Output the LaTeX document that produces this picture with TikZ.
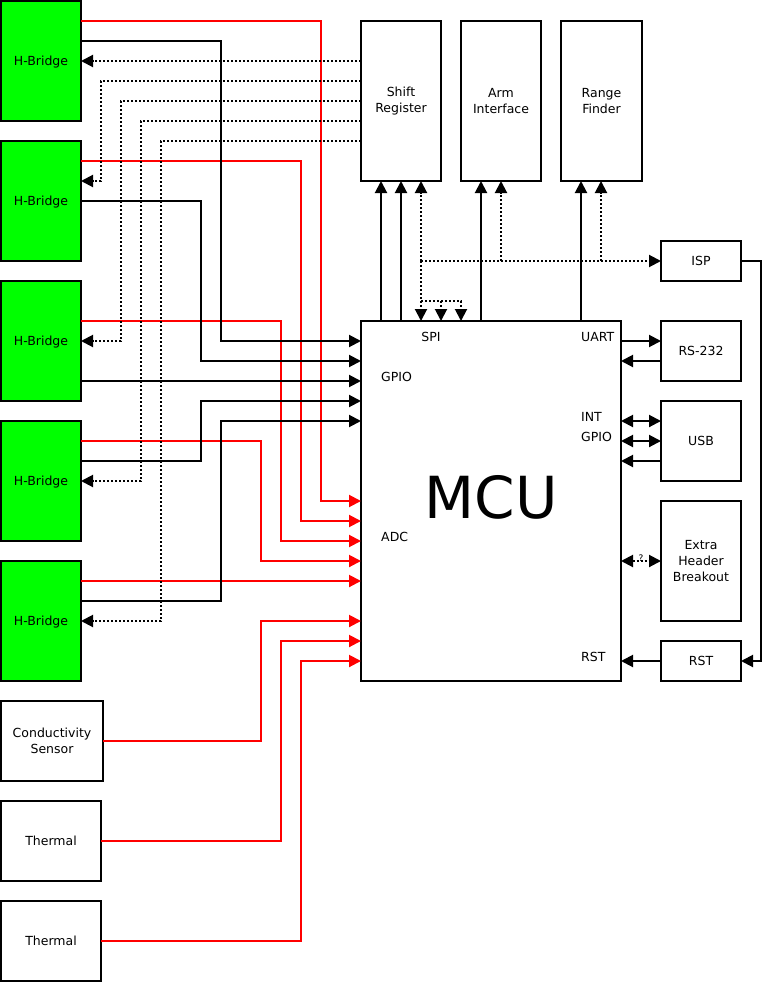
\documentclass[tikz,border=0pt]{standalone}
\usepackage{fontspec}
\setmainfont{DejaVu Sans}
\usetikzlibrary{arrows.meta}
\definecolor{hbgreen}{RGB}{0,255,0}
\definecolor{wirered}{RGB}{255,0,0}
\tikzset{
  blk/.style={draw, line width=2pt, inner sep=0pt, outer sep=0pt, align=center,
    font=\fontsize{12.5}{16}\selectfont, fill=white},
  hbbox/.style={blk, fill=hbgreen, minimum width=80pt, minimum height=120pt,
    text height=11pt, text depth=2.4pt},
  lbl/.style={inner sep=0pt, anchor=west, font=\fontsize{12.5}{15}\selectfont},
  tip/.tip={Triangle[length=12pt,width=12pt]},
  wire/.style={line width=2pt, -tip},
  redwire/.style={wire, draw=wirered, -{Triangle[length=12pt,width=12pt,color=wirered]}},
  dotwire/.style={wire, dash pattern=on 2pt off 2pt},
}
\begin{document}
\begin{tikzpicture}[x=1pt,y=-1pt]
\useasboundingbox (0,0) rectangle (762,982);

% H-Bridges
\node[hbbox] (hb1) at (41,61) {H-Bridge};
\node[hbbox] (hb2) at (41,201) {H-Bridge};
\node[hbbox] (hb3) at (41,341) {H-Bridge};
\node[hbbox] (hb4) at (41,481) {H-Bridge};
\node[hbbox] (hb5) at (41,621) {H-Bridge};

% sensors
\node[blk, minimum width=102pt, minimum height=80pt] (cond) at (52,741) {Conductivity\\Sensor};
\node[blk, minimum width=100pt, minimum height=80pt] (th1) at (51,841) {Thermal};
\node[blk, minimum width=100pt, minimum height=80pt] (th2) at (51,941) {Thermal};

% top peripherals
\node[blk, minimum width=80pt, minimum height=160pt] (sr) at (401,101) {Shift\\Register};
\node[blk, minimum width=80pt, minimum height=160pt] (arm) at (501,101) {Arm\\Interface};
\node[blk, minimum width=81pt, minimum height=160pt] (rf) at (601.5,101) {Range\\Finder};

% right peripherals
\node[blk, minimum width=80pt, minimum height=40pt] (isp) at (701,261) {ISP};
\node[blk, minimum width=80pt, minimum height=60pt] (rs) at (701,351) {RS-232};
\node[blk, minimum width=80pt, minimum height=80pt] (usb) at (701,441) {USB};
\node[blk, minimum width=80pt, minimum height=120pt] (ext) at (701,561) {Extra\\Header\\Breakout};
\node[blk, minimum width=80pt, minimum height=40pt] (rst) at (701,661) {RST};

% MCU
\node[blk, minimum width=260pt, minimum height=360pt] (mcu) at (491,501) {};
\node[inner sep=0pt, font=\fontsize{58}{60}\selectfont] (mcut) at (491,497) {MCU};
\node[lbl, anchor=center] (lspi) at (431,336.8) {SPI};
\node[lbl] (luart) at (581,336.8) {UART};
\node[lbl] (lgpio) at (381,376.8) {GPIO};
\node[lbl] (lint) at (581,416.8) {INT};
\node[lbl] (lgpio2) at (581,436.8) {GPIO};
\node[lbl] (ladc) at (381,536.8) {ADC};
\node[lbl] (lrst) at (581,656.8) {RST};

% red analog wires
\draw[redwire] (hb1.east |- 0,21) -| (321,501) -- (mcu.west |- 0,501);
\draw[redwire] (hb2.east |- 0,161) -| (301,521) -- (mcu.west |- 0,521);
\draw[redwire] (hb3.east |- 0,321) -| (281,541) -- (mcu.west |- 0,541);
\draw[redwire] (hb4.east |- 0,441) -| (261,561) -- (mcu.west |- 0,561);
\draw[redwire] (hb5.east |- 0,581) -- (mcu.west |- 0,581);
\draw[redwire] (cond.east) -| (261,621) -- (mcu.west |- 0,621);
\draw[redwire] (th1.east) -| (281,641) -- (mcu.west |- 0,641);
\draw[redwire] (th2.east) -| (301,661) -- (mcu.west |- 0,661);

% black GPIO wires
\draw[wire] (hb1.east |- 0,41) -| (221,341) -- (mcu.west |- 0,341);
\draw[wire] (hb2.east |- 0,201) -| (201,361) -- (mcu.west |- 0,361);
\draw[wire] (hb3.east |- 0,381) -- (mcu.west |- 0,381);
\draw[wire] (hb4.east |- 0,461) -| (201,401) -- (mcu.west |- 0,401);
\draw[wire] (hb5.east |- 0,601) -| (221,421) -- (mcu.west |- 0,421);

% dotted shift register outputs
\draw[dotwire] (sr.west |- 0,61) -- (hb1.east |- 0,61);
\draw[dotwire] (sr.west |- 0,81) -| (101,181) -- (hb2.east |- 0,181);
\draw[dotwire] (sr.west |- 0,101) -| (121,341) -- (hb3.east |- 0,341);
\draw[dotwire] (sr.west |- 0,121) -| (141,481) -- (hb4.east |- 0,481);
\draw[dotwire] (sr.west |- 0,141) -| (161,621) -- (hb5.east |- 0,621);

% SPI bus
\draw[wire] (mcu.north -| 381,0) -- (sr.south -| 381,0);
\draw[wire] (mcu.north -| 401,0) -- (sr.south -| 401,0);
\coordinate (spij) at (421,261);
\coordinate (spik) at (421,301);
\draw[dotwire] (spij) -- (sr.south -| 421,0);
\draw[dotwire] (spij) -- (mcu.north -| 421,0);
\draw[dotwire] (spik) -| (mcu.north -| 461,0);
\draw[dotwire] (spik -| 441,0) -- (mcu.north -| 441,0);
\draw[dotwire] (spij) -- (isp.west);
\draw[dotwire] (spij -| 501,0) -- (arm.south -| 501,0);
\draw[dotwire] (spij -| 601,0) -- (rf.south -| 601,0);
\draw[wire] (mcu.north -| 481,0) -- (arm.south -| 481,0);
\draw[wire] (mcu.north -| 581,0) -- (rf.south -| 581,0);

% right side
\draw[wire] (mcu.east |- 0,341) -- (rs.west |- 0,341);
\draw[wire] (rs.west |- 0,361) -- (mcu.east |- 0,361);
\draw[wire, tip-tip] (mcu.east |- 0,421) -- (usb.west |- 0,421);
\draw[wire, tip-tip] (mcu.east |- 0,441) -- (usb.west |- 0,441);
\draw[wire] (usb.west |- 0,461) -- (mcu.east |- 0,461);
\draw[dotwire, tip-tip] (mcu.east |- 0,561) -- (ext.west |- 0,561)
  node[midway, above=-1.5pt, inner sep=0pt, font=\fontsize{9}{10}\selectfont] (q) {?};
\draw[wire] (rst.west) -- (mcu.east |- 0,661);
\draw[wire] (isp.east) -| (761,661) -- (rst.east);
\end{tikzpicture}
\end{document}
